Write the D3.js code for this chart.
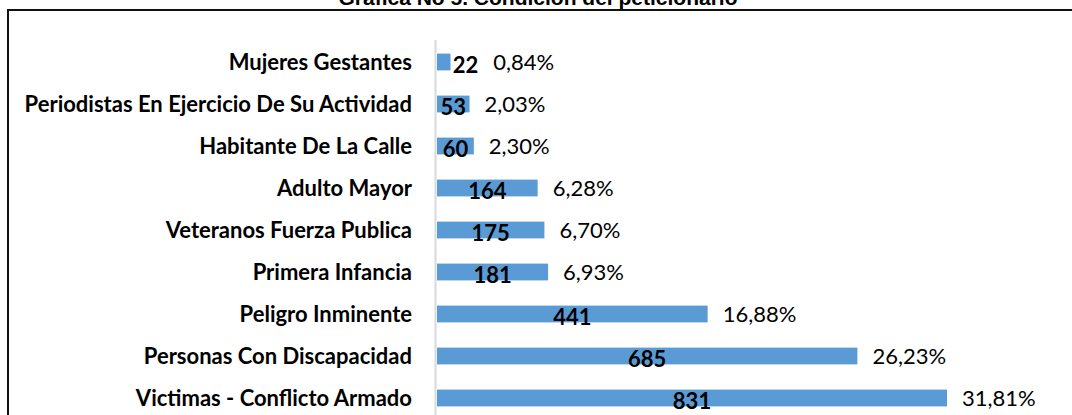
<!DOCTYPE html>
<html>
<head>
<meta charset="utf-8">
<script src="https://cdn.jsdelivr.net/npm/d3@7"></script>
<style>
  body { margin: 0; background: #fff; }
  .catLabel { font-family: Lato, "Open Sans", sans-serif; font-weight: bold; font-size: 22px; fill: #000; }
  .valLabel { font-family: Lato, "Open Sans", sans-serif; font-weight: bold; font-size: 22px; fill: #000; }
  .pctLabel { font-family: Lato, "Open Sans", sans-serif; font-size: 22px; fill: #000; }
  .title { font-family: "Liberation Sans", Arial, sans-serif; font-weight: bold; font-size: 21px; fill: #000; }
</style>
</head>
<body>
<script>
(function(){

    //chart data, top to bottom
    var categories = ["Mujeres Gestantes", "Periodistas En Ejercicio De Su Actividad", "Habitante De La Calle",
        "Adulto Mayor", "Veteranos Fuerza Publica", "Primera Infancia", "Peligro Inminente",
        "Personas Con Discapacidad", "Victimas - Conflicto Armado"];
    var counts = [22, 53, 60, 164, 175, 181, 441, 685, 831];
    var percents = ["0,84%", "2,03%", "2,30%", "6,28%", "6,70%", "6,93%", "16,88%", "26,23%", "31,81%"];
    var title = "Grafica No 5. Condición del peticionario";

    var width = 1072,
        height = 415;

    var svg = d3.select("body")
        .append("svg")
        .attr("width", width)
        .attr("height", height);

    //scales
    var x = d3.scaleLinear()
        .domain([0, 831])
        .range([437, 947]);

    var y = d3.scaleBand()
        .domain(categories)
        .range([41, 419])
        .paddingInner(0.6)
        .paddingOuter(0.3);

    //frame lines (top and left)
    svg.append("path")
        .attr("d", "M8,415 V10 H1072")
        .attr("fill", "none")
        .attr("stroke", "#111")
        .attr("stroke-width", 2);

    //title, partly cut off at the top like the source
    svg.append("text")
        .attr("class", "title")
        .attr("x", 538)
        .attr("y", 5)
        .attr("text-anchor", "middle")
        .text(title);

    //category axis line
    svg.append("line")
        .attr("x1", 435.5).attr("x2", 435.5)
        .attr("y1", 40).attr("y2", height)
        .attr("stroke", "#d9d9d9")
        .attr("stroke-width", 2);

    var rows = categories.map(function(c, i){
        return {cat: c, val: counts[i], pct: percents[i]};
    });

    //bars
    svg.selectAll(".bars")
        .data(rows)
        .enter()
        .append("rect")
        .attr("class", "bars")
        .attr("x", x(0))
        .attr("y", function(d){ return y(d.cat); })
        .attr("width", function(d){ return x(d.val) - x(0); })
        .attr("height", y.bandwidth())
        .attr("fill", "#5b9bd5");

    //category labels
    svg.selectAll(".catLabel")
        .data(rows)
        .enter()
        .append("text")
        .attr("class", "catLabel")
        .attr("x", 412)
        .attr("y", function(d){ return y(d.cat) + y.bandwidth() / 2; })
        .attr("dy", "0.35em")
        .attr("text-anchor", "end")
        .text(function(d){ return d.cat; });

    //value labels: centered in bar, or just after tiny bars
    var valLabels = svg.selectAll(".valLabel")
        .data(rows)
        .enter()
        .append("text")
        .attr("class", "valLabel")
        .attr("x", function(d){
            var w = x(d.val) - x(0);
            return w < 20 ? x(d.val) + 15 : (x(0) + x(d.val)) / 2;
        })
        .attr("y", function(d){ return y(d.cat) + y.bandwidth() / 2 + 3; })
        .attr("dy", "0.35em")
        .attr("text-anchor", "middle")
        .text(function(d){ return d.val; });

    //percent labels: after the bar or the value label, whichever is further right
    var valEnds = [];
    valLabels.each(function(){
        var b = this.getBBox();
        valEnds.push(b.x + b.width);
    });

    svg.selectAll(".pctLabel")
        .data(rows)
        .enter()
        .append("text")
        .attr("class", "pctLabel")
        .attr("x", function(d, i){ return Math.max(x(d.val), valEnds[i]) + 15; })
        .attr("y", function(d){ return y(d.cat) + y.bandwidth() / 2; })
        .attr("dy", "0.35em")
        .text(function(d){ return d.pct; });

})();
</script>
</body>
</html>
